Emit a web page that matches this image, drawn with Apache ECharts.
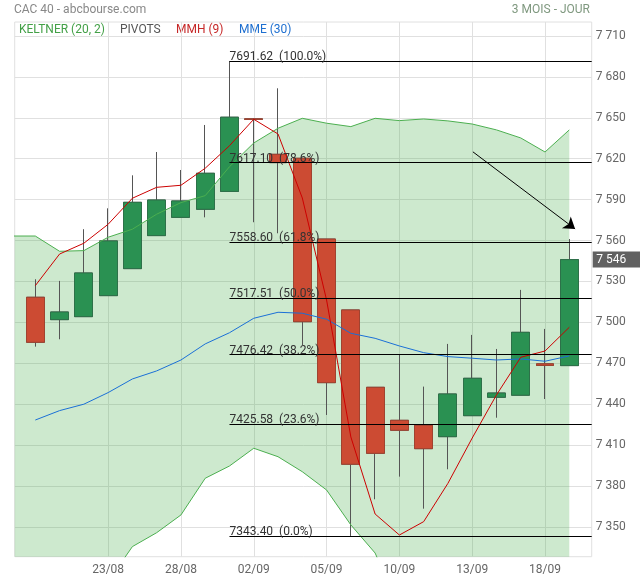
<!DOCTYPE html>
<html><head><meta charset="utf-8">
<script src="https://cdn.jsdelivr.net/npm/echarts@6/dist/echarts.min.js"></script>
<style>html,body{margin:0;padding:0;background:#fff}#c{width:640px;height:580px}</style>
</head><body><div id="c"></div>
<script>
const dates = ['20/08','21/08','22/08','23/08','26/08','27/08','28/08','29/08','30/08','02/09','03/09','04/09','05/09','06/09','09/09','10/09','11/09','12/09','13/09','16/09','17/09','18/09','19/09'];
const opens  = [7518.4,7502.0,7504.2,7519.6,7539.4,7563.6,7577.0,7582.9,7596.0,7649.2,7623.2,7620.3,7561.1,7509.1,7452.4,7428.2,7424.6,7416.2,7431.6,7445.1,7446.6,7469.6,7468.3];
const closes = [7485.4,7507.6,7536.2,7559.7,7588.0,7589.7,7589.0,7609.3,7650.4,7648.8,7617.1,7500.5,7455.8,7396.0,7404.0,7420.9,7407.4,7447.5,7459.0,7448.2,7492.7,7468.4,7546.0];
const lows   = [7482.2,7487.6,7504.2,7519.6,7539.4,7563.6,7577.0,7577.0,7596.0,7573.4,7565.3,7483.4,7432.1,7343.4,7370.3,7386.9,7363.4,7392.3,7431.6,7430.1,7446.6,7443.8,7468.3];
const highs  = [7531.6,7530.4,7568.3,7583.6,7607.8,7624.9,7611.7,7644.7,7691.62,7649.5,7671.6,7620.3,7561.1,7509.1,7452.4,7476.6,7452.9,7484.2,7490.8,7480.5,7523.8,7495.2,7561.1];
const mmh = [7526.9,7550.1,7558.0,7571.9,7591.0,7599.0,7600.5,7613.0,7629.5,7648.9,7638.1,7591.2,7516.4,7416.0,7359.5,7344.1,7353.9,7382.0,7415.2,7446.8,7474.4,7479.0,7496.4];
const mme = [7428.4,7435.3,7440.0,7448.5,7458.5,7464.4,7472.4,7484.2,7492.4,7503.0,7507.4,7506.7,7502.3,7492.0,7488.3,7482.7,7477.8,7474.9,7473.7,7472.4,7473.2,7471.5,7475.4];
// Keltner band starts one session earlier (19/08)
const kelDates = ['19/08'].concat(dates);
const kelUpper = [7563.3,7563.3,7552.1,7552.6,7562.4,7568.3,7579.3,7587.8,7592.9,7614.1,7631.5,7642.3,7649.6,7646.0,7643.5,7649.6,7647.9,7649.1,7647.7,7645.4,7641.1,7635.2,7624.9,7641.1];
const kelLower = [7305,7305,7300,7300,7310,7335.6,7345.8,7358.8,7385.7,7394.7,7407.7,7401.5,7390.5,7377.1,7351.5,7330.9,7290,7285,7282,7280,7282,7290,7295,7300];
const fibLevels = [7691.62,7617.10,7558.60,7517.51,7476.42,7425.58,7343.40];
const fibPcts = ['100.0%','78.6%','61.8%','50.0%','38.2%','23.6%','0.0%'];
const fibStartIndex = 8;
const yTicks = [7350,7380,7410,7440,7470,7500,7530,7560,7590,7620,7650,7680,7710];
const xTickIdx = [3,6,9,12,15,18,21];
const lastPrice = 7546;
const arrowFrom = [18.03, 7625.0];
const arrowTo = [22.24, 7568.5];

const X_MIN = -0.849, X_MAX = 22.923;
const fmtNum = v => String(v).replace(/\B(?=(\d{3})+(?!\d))/g, ' ');

const candleFull = dates.map((d,i)=>[i, opens[i], closes[i], lows[i], highs[i]]);
const candleBody = dates.map((d,i)=>[i, opens[i], closes[i], Math.min(opens[i],closes[i]), Math.max(opens[i],closes[i])]);
const kelX = kelDates.map((d,i)=>i-1);

const fibData = fibLevels.map((lv,k)=>[
  {coord:[fibStartIndex, lv], label:{formatter: lv.toFixed(2) + '  (' + fibPcts[k] + ')'}},
  {coord:[X_MAX, lv]}
]);

function renderBand(params, api) {
  if (params.dataIndex !== 0) return null;
  const pts = [];
  for (let i = 0; i < kelX.length; i++) pts.push(api.coord([kelX[i], kelUpper[i]]));
  for (let i = kelX.length - 1; i >= 0; i--) pts.push(api.coord([kelX[i], kelLower[i]]));
  const cs = params.coordSys;
  return {
    type:'group',
    clipPath:{type:'rect', shape:{x:cs.x, y:cs.y, width:cs.width, height:cs.height}},
    children:[{type:'polygon', shape:{points:pts}, style:{fill:'rgba(76,175,80,0.28)', stroke:null}}]
  };
}

const chart = echarts.init(document.getElementById('c'), null, {renderer:'canvas'});
const baseGraphic = [
  {type:'text', left:14, top:4, style:{text:'CAC 40 - abcbourse.com', fill:'#888', font:'12px Roboto'}},
  {type:'text', right:50, top:4, style:{text:'3 MOIS - JOUR', fill:'#7f987f', font:'12px Roboto'}},
  {type:'text', left:19, top:24, style:{text:'KELTNER (20, 2)', fill:'#43a047', font:'12px Roboto'}},
  {type:'text', left:120, top:24, style:{text:'PIVOTS', fill:'#555', font:'12px Roboto'}},
  {type:'text', left:176, top:24, style:{text:'MMH (9)', fill:'#c62828', font:'12px Roboto'}},
  {type:'text', left:239, top:24, style:{text:'MME (30)', fill:'#1e6fd0', font:'12px Roboto'}}
];
chart.setOption({
  animation:false,
  textStyle:{fontFamily:'Roboto'},
  grid:{left:14.7, right:48.3, top:22, bottom:23.3, show:true, borderColor:'#e0e0e0', borderWidth:1, backgroundColor:'transparent'},
  xAxis:{type:'value', min:X_MIN, max:X_MAX,
    axisLine:{show:false}, axisTick:{show:false, customValues:xTickIdx},
    axisLabel:{customValues:xTickIdx, formatter:v=>dates[Math.round(v)], color:'#666', fontSize:12, margin:7},
    splitLine:{show:true, lineStyle:{color:'#e0e0e0', width:1}}},
  yAxis:{type:'value', position:'right', min:7328.2, max:7720.2, scale:true,
    axisLine:{show:false}, axisTick:{show:false, customValues:yTicks},
    axisLabel:{customValues:yTicks, formatter:fmtNum, color:'#666', fontSize:12, margin:4},
    splitLine:{show:true, lineStyle:{color:'#e0e0e0', width:1}}},
  graphic: baseGraphic,
  series:[
    {name:'kelArea', type:'custom', renderItem:renderBand, data:[[0]], silent:true, encode:{x:-1, y:-1}},
    {name:'kelUpper', type:'line', symbol:'none', data:kelUpper.map((v,i)=>[kelX[i], v]), lineStyle:{color:'#4caf50', width:1}},
    {name:'kelLower', type:'line', symbol:'none', data:kelLower.map((v,i)=>[kelX[i], v]), lineStyle:{color:'#4caf50', width:1}},
    {name:'wicks', type:'candlestick', data:candleFull, encode:{x:0, y:[1,2,3,4]}, barWidth:18.4,
      itemStyle:{color:'#555', color0:'#555', borderColor:'#555', borderColor0:'#555', borderWidth:1}},
    {name:'bodies', type:'candlestick', data:candleBody, encode:{x:0, y:[1,2,3,4]}, barWidth:18.4,
      itemStyle:{color:'#2a9152', color0:'#cc4b33', borderColor:'#2d7149', borderColor0:'#a04330', borderWidth:1}},
    {name:'MME (30)', type:'line', symbol:'none', data:mme.map((v,i)=>[i,v]), lineStyle:{color:'#1a6fd6', width:1}},
    {name:'MMH (9)', type:'line', symbol:'none', data:mmh.map((v,i)=>[i,v]), lineStyle:{color:'#cc0000', width:1},
      markLine:{silent:true, symbol:'none', lineStyle:{color:'#000', width:1, type:'solid'},
        label:{position:'insideStartTop', distance:[0,-2], color:'#333', fontSize:12},
        data: fibData.concat([[{coord:arrowFrom, symbol:'none', label:{show:false}}, {coord:arrowTo, symbol:'arrow', symbolSize:11}]])}}
  ]
});
// last price tag on the right axis, positioned through the y scale
const yPix = chart.convertToPixel({yAxisIndex:0}, lastPrice);
chart.setOption({graphic: baseGraphic.concat([
  {type:'group', left:592.7, top:yPix - 8, children:[
    {type:'rect', shape:{x:0, y:0, width:48, height:16}, style:{fill:'#616161'}},
    {type:'text', x:3.5, y:8, style:{text:fmtNum(lastPrice), fill:'#fff', font:'12px Roboto', verticalAlign:'middle'}}
  ]}
])});
</script></body></html>
